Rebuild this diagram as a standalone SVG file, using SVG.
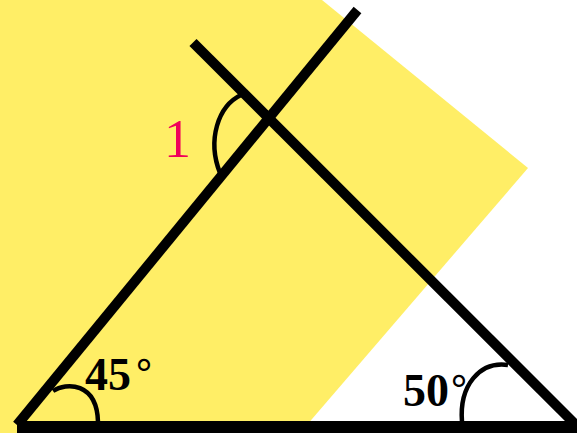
<svg xmlns="http://www.w3.org/2000/svg" width="577" height="433" viewBox="0 0 577 433">
<style>
.ln{stroke:#000;stroke-width:10;fill:none;stroke-linecap:butt}
.arc{stroke:#000;stroke-width:4.5;fill:none}
.lbl{font-family:"Liberation Serif","Times New Roman",serif;font-weight:bold;font-size:46px;fill:#000}
</style>
<rect width="577" height="433" fill="#fff"/>
<polygon id="shade" points="0,0 322,0 528,168 300,433 0,433" fill="#ffee66"/>
<g id="connectors">
<line class="ln" x1="357.5" y1="10" x2="17" y2="425"/>
<line class="ln" x1="193" y1="42.5" x2="575" y2="424"/>
<line x1="17" y1="427" x2="577" y2="427" stroke="#000" stroke-width="12"/>
<path class="arc" d="M53 391 C66 382 97 382 98 422"/>
<path class="arc" d="M508 365 C480 361 459 385 462 422"/>
<path class="arc" d="M241 95 C218 106 207 140 220 173"/>
</g>
<g id="angle1"><text x="164" y="157" font-family="Liberation Serif,serif" font-size="54" fill="#f0005a">1</text></g>
<g id="angle45"><text class="lbl" x="85" y="390">45<tspan dx="5" dy="-4" font-size="40">°</tspan></text></g>
<g id="angle50"><text class="lbl" x="403" y="406">50<tspan dx="2" dy="-4" font-size="40">°</tspan></text></g>
</svg>
